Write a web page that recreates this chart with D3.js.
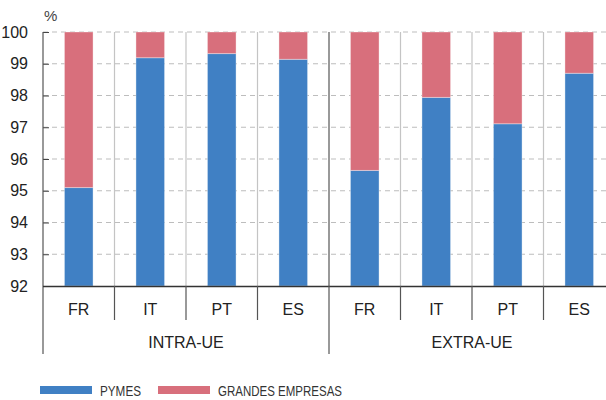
<!DOCTYPE html>
<html><head><meta charset="utf-8">
<script src="https://cdn.jsdelivr.net/npm/d3@7"></script>
<style>
html,body{margin:0;padding:0;background:#fff;}
svg{display:block;}
</style>
</head><body>
<svg id="chart" width="606" height="400"></svg>
<script>
const groups = ["INTRA-UE", "EXTRA-UE"];
const countries = ["FR", "IT", "PT", "ES"];
const pymes   = [95.1, 99.19, 99.32, 99.14, 95.64, 97.94, 97.11, 98.7];
const grandes = [4.9, 0.81, 0.68, 0.86, 4.36, 2.06, 2.89, 1.3];
const yTicks = [92, 93, 94, 95, 96, 97, 98, 99, 100];
const seriesNames = ["PYMES", "GRANDES EMPRESAS"];
const colors = ["#4080c4", "#d86f7c"];

const svg = d3.select("#chart");
const mLeft = 43, mRight = 615, mTop = 32, mBottom = 286;
const font = "'Helvetica Neue', Arial, 'Liberation Sans', sans-serif";

const keys = [];
groups.forEach(g => countries.forEach(c => keys.push(g + "|" + c)));
const rows = keys.map((k, i) => ({key: k, country: k.split("|")[1], group: k.split("|")[0], p: pymes[i], g: grandes[i]}));

const x = d3.scaleBand().domain(keys).range([mLeft, mRight]);
const xg = d3.scaleBand().domain(groups).range([mLeft, mRight]);
const y = d3.scaleLinear().domain([92, 100]).range([mBottom, mTop]);
const bw = x.bandwidth() * 0.4;

// horizontal dashed gridlines
svg.append("g").selectAll("line").data(yTicks.filter(t => t > 92)).join("line")
  .attr("x1", mLeft).attr("x2", 606)
  .attr("y1", d => y(d)).attr("y2", d => y(d))
  .attr("stroke", "#bdbdbd").attr("stroke-width", 1.2).attr("stroke-dasharray", "5,4");

// vertical separators in plot
svg.append("g").selectAll("line").data(keys.slice(1)).join("line")
  .attr("x1", d => x(d)).attr("x2", d => x(d))
  .attr("y1", mTop).attr("y2", mBottom)
  .attr("stroke", d => d === "EXTRA-UE|FR" ? "#777" : "#c4c4c4")
  .attr("stroke-width", d => d === "EXTRA-UE|FR" ? 1.5 : 1.2);

// bars
const stack = svg.append("g");
stack.selectAll("rect.p").data(rows).join("rect").attr("class", "p")
  .attr("x", d => x(d.key) + (x.bandwidth() - bw) / 2).attr("width", bw)
  .attr("y", d => y(d.p)).attr("height", d => y(92) - y(d.p))
  .attr("fill", colors[0]).attr("stroke", "rgba(255,255,255,0.35)").attr("stroke-width", 1);
stack.selectAll("rect.g").data(rows).join("rect").attr("class", "g")
  .attr("x", d => x(d.key) + (x.bandwidth() - bw) / 2).attr("width", bw)
  .attr("y", d => y(d.p + d.g)).attr("height", d => y(d.p) - y(d.p + d.g))
  .attr("fill", colors[1]).attr("stroke", "rgba(255,255,255,0.35)").attr("stroke-width", 1);

// y axis
const yAxis = d3.axisLeft(y).tickValues(yTicks).tickSize(-6).tickPadding(15).tickFormat(d3.format("d"));
const ya = svg.append("g").attr("transform", `translate(${mLeft},0)`).call(yAxis);
ya.select(".domain").remove();
ya.selectAll(".tick line").attr("stroke", "#444");
ya.selectAll(".tick text").attr("font-family", font).attr("font-size", 16).attr("fill", "#222");
svg.append("line").attr("x1", mLeft).attr("x2", mLeft).attr("y1", mTop).attr("y2", 354)
  .attr("stroke", "#555").attr("stroke-width", 1.2);

svg.append("text").attr("x", 44).attr("y", 21).text("%")
  .attr("font-family", font).attr("font-size", 15).attr("fill", "#444");

// x axis
const xAxis = d3.axisBottom(x).tickSize(0).tickFormat(d => d.split("|")[1]);
const xa = svg.append("g").attr("transform", `translate(0,${mBottom})`).call(xAxis);
xa.select(".domain").remove();
xa.selectAll(".tick text").attr("dy", null).attr("y", 29).attr("font-family", font).attr("font-size", 16).attr("fill", "#222");
svg.append("line").attr("x1", mLeft).attr("x2", 606).attr("y1", mBottom + 0.5).attr("y2", mBottom + 0.5)
  .attr("stroke", "#333").attr("stroke-width", 1.3);

// category separators below axis
svg.append("g").selectAll("line").data(keys.slice(1).filter(k => k !== "EXTRA-UE|FR")).join("line")
  .attr("x1", d => x(d)).attr("x2", d => x(d))
  .attr("y1", mBottom).attr("y2", 320)
  .attr("stroke", "#555").attr("stroke-width", 1.2);
// group divider
svg.append("line").attr("x1", xg("EXTRA-UE")).attr("x2", xg("EXTRA-UE"))
  .attr("y1", mBottom).attr("y2", 354).attr("stroke", "#555").attr("stroke-width", 1.2);

// group labels
svg.append("g").selectAll("text").data(groups).join("text")
  .attr("x", d => xg(d) + xg.bandwidth() / 2).attr("y", 348)
  .attr("text-anchor", "middle").text(d => d)
  .attr("font-family", font).attr("font-size", 16).attr("fill", "#222");

// legend
const legendX = [40, 158];
const legendTextW = [41, 124];
const lg = svg.append("g").selectAll("g").data(seriesNames).join("g")
  .attr("transform", (d, i) => `translate(${legendX[i]},386)`);
lg.append("rect").attr("width", 52).attr("height", 8).attr("fill", (d, i) => colors[i]);
lg.append("text").attr("x", 60).attr("y", 10).text(d => d)
  .attr("font-family", font)
  .attr("textLength", (d, i) => legendTextW[i]).attr("lengthAdjust", "spacingAndGlyphs")
  .attr("font-size", 15).attr("fill", "#333");
</script>
</body></html>
